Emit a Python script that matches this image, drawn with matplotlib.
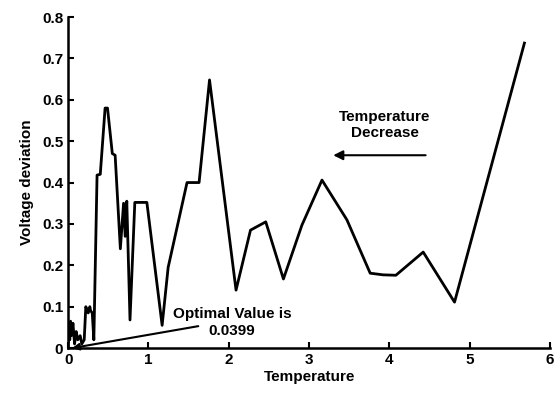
#!/usr/bin/env python3

import matplotlib.pyplot as plt

# temperature / voltage deviation
temperature = [0.0, 0.01, 0.02, 0.03, 0.04, 0.06, 0.08, 0.10, 0.12, 0.15,
               0.17, 0.20, 0.22, 0.25, 0.27, 0.28, 0.30, 0.32, 0.36, 0.40,
               0.46, 0.49, 0.55, 0.585, 0.65, 0.69, 0.71, 0.73, 0.77, 0.83,
               0.98, 1.17, 1.245, 1.48, 1.63, 1.76, 2.09, 2.27, 2.46, 2.68,
               2.91, 3.16, 3.47, 3.76, 3.92, 4.08, 4.42, 4.81, 5.68]
voltage_dev = [0.005, 0.06, 0.02, 0.065, 0.03, 0.06, 0.01, 0.04, 0.02, 0.03,
               0.01, 0.02, 0.10, 0.085, 0.10, 0.09, 0.085, 0.02, 0.418, 0.42,
               0.58, 0.58, 0.47, 0.466, 0.24, 0.35, 0.27, 0.355, 0.068, 0.352,
               0.352, 0.055, 0.195, 0.40, 0.40, 0.648, 0.14, 0.285, 0.305, 0.167,
               0.297, 0.406, 0.31, 0.181, 0.177, 0.176, 0.232, 0.111, 0.737]

x_ticks = [0, 1, 2, 3, 4, 5, 6]
y_ticks = [0, 0.1, 0.2, 0.3, 0.4, 0.5, 0.6, 0.7, 0.8]
y_ticklabels = ["0", "0.1", "0.2", "0.3", "0.4", "0.5", "0.6", "0.7", "0.8"]

plt.rcParams['font.family'] = ['Liberation Sans', 'DejaVu Sans']
plt.rcParams['font.weight'] = 'bold'


def _main():
    fig = plt.figure(figsize=(5.54, 3.96), dpi=100)
    ax = fig.add_axes([0.123, 0.121, 0.870, 0.836])

    ax.plot(temperature, voltage_dev, color='black', lw=2)

    ax.set_xlim(0, 6)
    ax.set_ylim(0, 0.8)
    ax.set_xticks(x_ticks)
    ax.set_yticks(y_ticks)
    ax.set_yticklabels(y_ticklabels)
    ax.tick_params(direction='in', length=4, width=1.5, labelsize=11)
    for lab in ax.get_xticklabels() + ax.get_yticklabels():
        lab.set_fontweight('bold')
    for side in ('top', 'right'):
        ax.spines[side].set_visible(False)
    for side in ('left', 'bottom'):
        ax.spines[side].set_linewidth(1.8)

    ax.set_xlabel("Temperature", fontsize=11, fontweight='bold', labelpad=2)
    ax.set_ylabel("Voltage deviation", fontsize=11, fontweight='bold', labelpad=6)

    # optimal value annotation
    ax.annotate("", xy=(0.05, 0.0), xytext=(1.62, 0.053),
                arrowprops=dict(arrowstyle='-|>', color='black', lw=1.5,
                                mutation_scale=10, shrinkA=0, shrinkB=0))
    ax.text(2.04, 0.062, "Optimal Value is\n0.0399", ha='center', va='center',
            fontsize=11, fontweight='bold', linespacing=1.25)

    # temperature decrease arrow
    ax.annotate("", xy=(3.30, 0.466), xytext=(4.45, 0.466),
                arrowprops=dict(arrowstyle='-|>', color='black', lw=1.5,
                                mutation_scale=14, shrinkA=0, shrinkB=0))
    ax.text(3.94, 0.539, "Temperature\nDecrease", ha='center', va='center',
            fontsize=11, fontweight='bold', linespacing=1.25)

    fig.savefig("out.png", dpi=100)


if __name__ == '__main__':
    _main()
